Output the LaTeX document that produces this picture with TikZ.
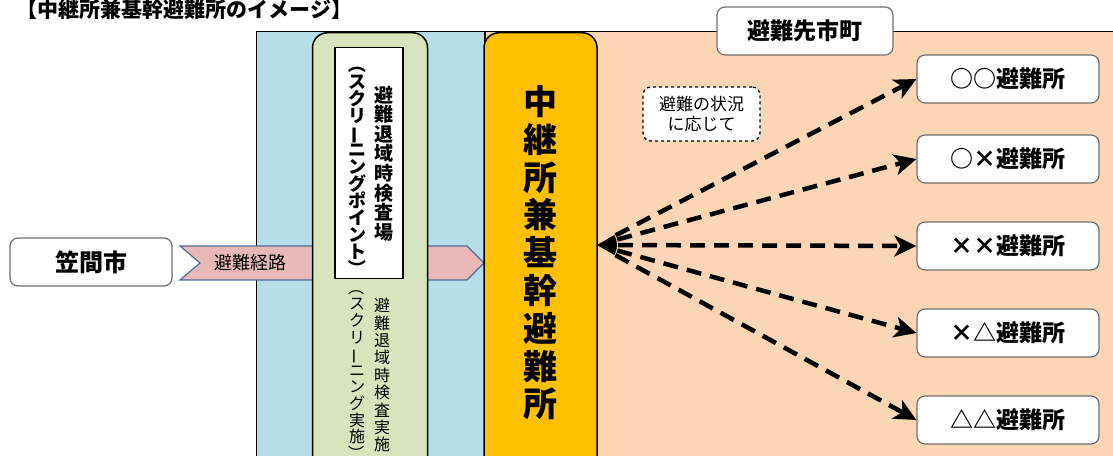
\documentclass[tikz,border=0pt]{standalone}
\usepackage{fontspec}
\setmainfont{Noto Sans CJK JP}
\usetikzlibrary{arrows.meta}

\definecolor{checkzone}{HTML}{B7DDE8}
\definecolor{destzone}{HTML}{FCD5B5}
\definecolor{screenfill}{HTML}{D7E4BD}
\definecolor{hubfill}{HTML}{FFC000}
\definecolor{routefill}{HTML}{E6B9B8}
\definecolor{routeline}{HTML}{4F6E96}
\definecolor{boxgray}{HTML}{6F6F6F}

% vertical forms for tategaki columns
\newcommand{\tatebar}{\rotatebox[origin=c]{90}{ー}}
\newcommand{\tatelp}{\rotatebox[origin=c]{-90}{（}}
\newcommand{\taterp}{\rotatebox[origin=c]{-90}{）}}

\begin{document}
\begin{tikzpicture}[x=1pt, y=1pt,
  box/.style={draw=boxgray, fill=white, rounded corners=8pt, line width=1.2pt, inner sep=0pt, font=\bfseries\fontsize{23}{26}\selectfont},
  shelter/.style={box, minimum width=182pt, minimum height=48pt},
  tall/.style={draw=black, line width=1.5pt, rounded corners=15pt, minimum height=440pt, anchor=north, inner sep=0pt},
  vcol/.style={align=center, inner sep=0pt},
  fan/.style={line width=4.5pt, dash pattern=on 15pt off 9pt, shorten <=21pt, -{Stealth[length=22pt,width=21pt,inset=6pt]}}]
\useasboundingbox (0,0) rectangle (1113,455);

% background zones
\fill[destzone] (485,-10) rectangle (1120,423.5);
\draw[line width=1.2pt] (485,423.5) -- (1120,423.5);
\draw[fill=checkzone, line width=1.5pt] (256.5,-10) rectangle (485,423.5);

\node[anchor=base west, font=\bfseries\fontsize{21}{24}\selectfont] (title) at (13,437) {【中継所兼基幹避難所のイメージ】};

% evacuation route
\node[box, minimum width=162pt, minimum height=48pt, font=\bfseries\fontsize{24}{26}\selectfont] (kasama) at (91,193) {笠間市};
\draw[fill=routefill, draw=routeline, line width=1.2pt] (180,209) -- (467,209) -- (484,192) -- (467,175) -- (180,175) -- (200,192) -- cycle;
\node[font=\fontsize{18}{20}\selectfont] (route) at (250,192) {避難経路};

% screening point
\node[tall, fill=screenfill, minimum width=115pt] (screen) at (370,423) {};
\node[draw=black, fill=white, line width=1.5pt, minimum width=68pt, minimum height=231pt, anchor=north] (spoint) at (369,408) {};
\node[vcol, font={\bfseries\fontsize{19}{19.6}\selectfont\lineskiplimit=-20pt}] (sname) at (384,291.5)
  {避\\難\\退\\域\\時\\検\\査\\場};
\node[vcol, font={\bfseries\fontsize{18}{17}\selectfont\lineskiplimit=-20pt}] (sname2) at (357,288.5)
  {\tatelp\\ス\\ク\\リ\\\tatebar\\ニ\\ン\\グ\\ポ\\イ\\ン\\ト\\\taterp};
\node[vcol, anchor=north, font={\fontsize{16}{17.4}\selectfont\lineskiplimit=-20pt}] (sdo) at (382,157)
  {避\\難\\退\\域\\時\\検\\査\\実\\施};
\node[vcol, anchor=north, font={\fontsize{16}{16.6}\selectfont\lineskiplimit=-20pt}] (sdo2) at (357,176)
  {\tatelp\\ス\\ク\\リ\\\tatebar\\ニ\\ン\\グ\\実\\施\\\taterp};

% relay / main shelter
\node[tall, fill=hubfill, minimum width=113pt, align=center,
  font={\bfseries\fontsize{34}{37.8}\selectfont\lineskiplimit=-20pt}] (relay) at (540.5,423)
  {中\\継\\所\\兼\\基\\幹\\避\\難\\所};

% destinations
\node[box, minimum width=176pt, minimum height=48pt] (dest) at (805,424) {避難先市町};
\node[box, draw=black, dashed, line width=1.3pt, minimum width=117pt, minimum height=54pt, align=center,
  font=\fontsize{17}{20}\selectfont] (note) at (701.5,341) {避難の状況\\に応じて};

\node[shelter] (s1) at (1008,376) {○○避難所};
\node[shelter] (s2) at (1008,296) {○×避難所};
\node[shelter] (s3) at (1008,209) {××避難所};
\node[shelter] (s4) at (1008,122) {×△避難所};
\node[shelter] (s5) at (1008,35) {△△避難所};

\coordinate (hub) at (597,210);
\fill (hub) -- ++(30:20) arc[start angle=30, end angle=-30, radius=20] -- cycle;
\foreach \s in {s1,s2,s3,s4,s5}
  \draw[fan] (hub) -- (\s.west);
\end{tikzpicture}
\end{document}
